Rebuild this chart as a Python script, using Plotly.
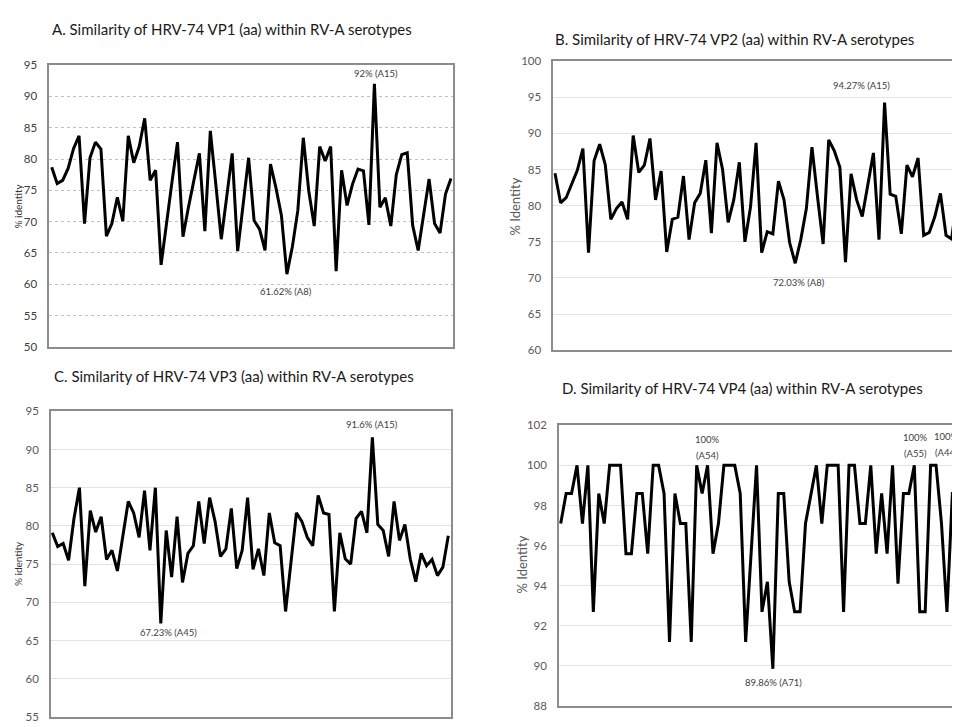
import plotly.graph_objects as go

# ---------------- data ----------------
vp1 = [78.7, 76.1, 76.6, 78.5, 81.7, 83.7, 69.7, 80.2, 82.7, 81.6,
       67.7, 69.7, 73.9, 70.1, 83.7, 79.4, 82.0, 86.5, 76.6, 78.2,
       63.1, 70.2, 76.4, 82.7, 67.6, 72.3, 76.5, 80.9, 68.5, 84.5,
       76.0, 67.2, 74.0, 80.9, 65.3, 72.7, 80.2, 70.2, 68.8, 65.4,
       79.2, 75.4, 71.0, 61.62, 66.0, 71.8, 83.4, 74.9, 69.3, 82.0,
       79.7, 82.0, 62.1, 78.2, 72.6, 76.0, 78.4, 78.1, 69.5, 92.0,
       72.3, 73.8, 69.3, 77.5, 80.7, 81.0, 69.4, 65.4, 71.3, 76.8,
       69.7, 68.2, 74.4, 76.9]

vp2 = [84.5, 80.4, 81.1, 83.0, 84.9, 87.9, 73.5, 86.2, 88.5, 85.7,
       78.1, 79.6, 80.5, 78.1, 89.7, 84.6, 85.6, 89.3, 80.8, 84.8,
       73.6, 78.1, 78.4, 84.1, 75.3, 80.4, 81.7, 86.3, 76.2, 88.7,
       85.0, 77.7, 80.8, 86.0, 75.0, 79.8, 88.7, 73.5, 76.4, 76.1,
       83.4, 80.8, 74.9, 72.03, 75.3, 79.6, 88.1, 81.2, 74.7, 89.1,
       87.6, 85.3, 72.2, 84.4, 80.8, 78.5, 83.0, 87.3, 75.3, 94.27,
       81.6, 81.3, 76.1, 85.6, 84.0, 86.6, 75.9, 76.3, 78.5, 81.7,
       75.9, 75.4, 81.3]

vp3 = [79.1, 77.3, 77.7, 75.5, 81.0, 85.0, 72.1, 82.0, 79.2, 81.2,
       75.6, 76.8, 74.1, 78.5, 83.2, 81.7, 78.5, 84.6, 76.8, 85.0,
       67.23, 79.4, 73.3, 81.2, 72.6, 76.4, 77.4, 83.2, 77.7, 83.7,
       80.6, 76.0, 77.0, 82.3, 74.4, 76.8, 83.7, 74.3, 77.0, 73.5,
       81.7, 77.8, 77.4, 68.8, 75.0, 81.7, 80.6, 78.5, 77.4, 84.0,
       81.7, 81.5, 68.8, 79.1, 75.7, 75.0, 81.0, 81.9, 79.1, 91.6,
       80.2, 79.4, 76.0, 83.2, 78.1, 80.2, 75.6, 72.7, 76.4, 74.8,
       75.6, 73.5, 74.6, 78.7]

vp4 = [97.1, 98.6, 98.6, 100, 97.1, 100, 92.7, 98.6, 97.1, 100,
       100, 100, 95.6, 95.6, 98.6, 98.6, 95.6, 100, 100, 98.6,
       91.2, 98.6, 97.1, 97.1, 91.2, 100, 98.6, 100, 95.6, 97.1,
       100, 100, 100, 98.6, 91.2, 95.6, 100, 92.7, 94.2, 89.86,
       98.6, 98.6, 94.2, 92.7, 92.7, 97.1, 98.6, 100, 97.1, 100,
       100, 100, 92.7, 100, 100, 97.1, 97.1, 100, 95.6, 98.6,
       95.6, 100, 94.1, 98.6, 98.6, 100, 92.7, 92.7, 100, 100,
       97.1, 92.7, 98.6, 98.6]

titles = ["A. Similarity of HRV-74 VP1 (aa) within RV-A serotypes",
          "B. Similarity of HRV-74 VP2 (aa) within RV-A serotypes",
          "C. Similarity of HRV-74 VP3 (aa) within RV-A serotypes",
          "D. Similarity of HRV-74 VP4 (aa) within RV-A serotypes"]

# ---------------- layout helpers ----------------
W, H = 960, 727
OFF = 8  # page body margin compensation (screen px -> figure px)
FONT = "Lato, Carlito, Calibri, sans-serif"

def px(x):
    return (x - OFF) / W

def py(y):
    return 1 - (y - OFF) / H

fig = go.Figure()

panels = [
    dict(y=vp1, ax="", xd=(49.3, 453), yd=(59, 346), yr=[50, 95], dt=5, xr=[-0.44, 73.37], dash="dot", gridc="#c0c0c0", mir=True, tickc="#404040"),
    dict(y=vp2, ax="2", xd=(553.3, 960), yd=(55, 349.3), yr=[60, 100], dt=5, xr=[-0.3, 72.5], dash="solid", gridc="#e3e3e3", mir=False, tickc="#595959"),
    dict(y=vp3, ax="3", xd=(51, 450.7), yd=(411.5, 722.7), yr=[55, 95], dt=5, xr=[-0.24, 73.44], dash="solid", gridc="#e3e3e3", mir=True, tickc="#595959"),
    dict(y=vp4, ax="4", xd=(559, 960), yd=(425.7, 711.7), yr=[88, 102], dt=2, xr=[-0.31, 73.4], dash="solid", gridc="#e3e3e3", mir=False, tickc="#595959"),
]

for p in panels:
    xs = list(range(len(p["y"])))
    fig.add_trace(go.Scatter(
        x=xs, y=p["y"], mode="lines",
        line=dict(color="black", width=3),
        xaxis="x" + p["ax"], yaxis="y" + p["ax"],
        showlegend=False, hoverinfo="skip",
    ))
    xa = dict(
        domain=[max(0, px(p["xd"][0])), min(1, px(p["xd"][1]))],
        range=p["xr"], showticklabels=False, ticks="",
        showgrid=False, zeroline=False,
        showline=True, linecolor="#8c8c8c", linewidth=1.6, mirror=True,
        anchor="y" + p["ax"],
    )
    ya = dict(
        domain=[py(p["yd"][1]), py(p["yd"][0])],
        range=p["yr"], dtick=p["dt"], tick0=p["yr"][0],
        showgrid=True, gridcolor=p["gridc"], gridwidth=1.2, griddash=p["dash"],
        zeroline=False,
        showline=True, linecolor="#8c8c8c", linewidth=1.6, mirror=p["mir"],
        ticks="", ticklabelstandoff=8,
        tickfont=dict(family=FONT, size=11.5, color=p["tickc"]),
        anchor="x" + p["ax"],
    )
    fig.layout["xaxis" + p["ax"]] = xa
    fig.layout["yaxis" + p["ax"]] = ya

ann = []
# panel titles
title_pos = [(50, 22), (553, 32), (52, 376), (560, 388)]
for t, (x, y) in zip(titles, title_pos):
    ann.append(dict(text=t, x=px(x), y=py(y), xref="paper", yref="paper",
                    xanchor="left", yanchor="middle", showarrow=False,
                    font=dict(family=FONT, size=15, color="#1a1a1a")))

# y-axis titles
for txt, x, y, size, col in [("% identity", 18, 203, 10, "#333333"),
                             ("% identity", 18, 567, 10, "#333333"),
                             ("% Identity", 515, 203, 13, "#595959"),
                             ("% Identity", 521.5, 568, 13, "#595959")]:
    ann.append(dict(text=txt, x=px(x), y=py(y), xref="paper", yref="paper",
                    textangle=-90, showarrow=False, xanchor="center", yanchor="middle",
                    font=dict(family=FONT, size=size, color=col)))

# data labels
lab_font = dict(family=FONT, size=9.5, color="#404040")
data_labels = [
    ("92% (A15)", "x", "y", 59.3, 93.7, "white"),
    ("61.62% (A8)", "x", "y", 42.8, 58.8, None),
    ("94.27% (A15)", "x2", "y2", 54.8, 96.6, None),
    ("72.03% (A8)", "x2", "y2", 43.6, 69.3, None),
    ("67.23% (A45)", "x3", "y3", 21.4, 66.1, None),
    ("91.6% (A15)", "x3", "y3", 58.9, 93.3, None),
    ("100%", "x4", "y4", 27.0, 101.3, None),
    ("(A54)", "x4", "y4", 27.0, 100.5, None),
    ("100%", "x4", "y4", 65.3, 101.4, None),
    ("(A55)", "x4", "y4", 65.3, 100.6, None),
    ("100%", "x4", "y4", 70.9, 101.45, None),
    ("(A44)", "x4", "y4", 70.9, 100.65, None),
    ("89.86% (A71)", "x4", "y4", 39.1, 89.2, None),
]
for text, xr, yr, x, y, bg in data_labels:
    d = dict(text=text, x=x, y=y, xref=xr, yref=yr, showarrow=False,
             xanchor="center", yanchor="middle", font=lab_font)
    if bg:
        d["bgcolor"] = bg
        d["borderpad"] = 1
    ann.append(d)

fig.update_layout(
    width=W, height=H,
    margin=dict(l=0, r=0, t=0, b=0),
    paper_bgcolor="white", plot_bgcolor="white",
    annotations=ann,
    font=dict(family=FONT),
)

fig.write_html("out.html")
